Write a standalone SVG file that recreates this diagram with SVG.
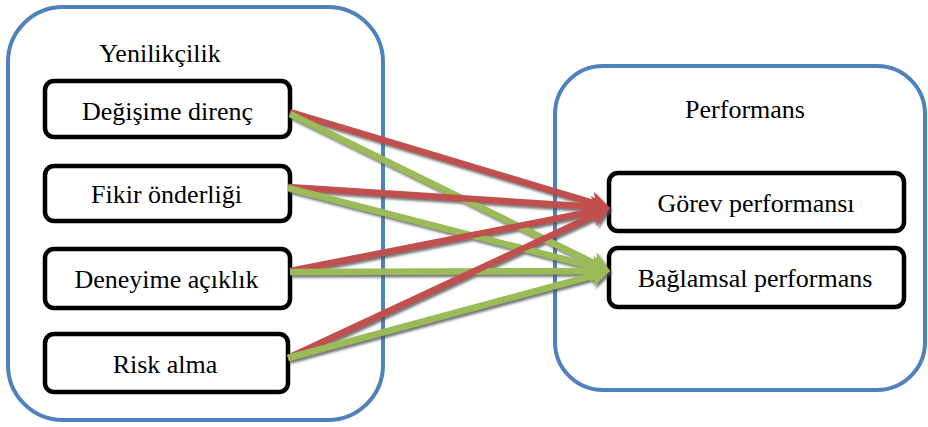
<svg xmlns="http://www.w3.org/2000/svg" width="928" height="427" viewBox="0 0 928 427">
  <style>
    .group { fill: #ffffff; stroke: #4f81bd; stroke-width: 4; }
    .item { fill: #ffffff; stroke: #000000; stroke-width: 4.5; }
    .label { font-family: 'Times New Roman', Tinos, 'Liberation Serif', 'DejaVu Serif', serif; font-size: 26px; fill: #000000; text-anchor: middle; }
    .red { stroke: #c0504d; stroke-width: 6.5; fill: none; marker-end: url(#headRed); }
    .green { stroke: #9bbb59; stroke-width: 6.5; fill: none; marker-end: url(#headGreen); }
  </style>
  <defs>
    <marker id="headRed" markerUnits="userSpaceOnUse" viewBox="-22 -12 24 24" markerWidth="24" markerHeight="24" refX="-10" refY="0" orient="auto" overflow="visible">
      <path d="M0,0 L-20,-11 L-15,0 L-20,11 Z" fill="#c0504d"/>
    </marker>
    <marker id="headGreen" markerUnits="userSpaceOnUse" viewBox="-22 -12 24 24" markerWidth="24" markerHeight="24" refX="-10" refY="0" orient="auto" overflow="visible">
      <path d="M0,0 L-20,-11 L-15,0 L-20,11 Z" fill="#9bbb59"/>
    </marker>
    <filter id="shadow" x="-10%" y="-10%" width="120%" height="120%">
      <feDropShadow dx="2" dy="2.5" stdDeviation="1" flood-color="#555555" flood-opacity="0.8"/>
    </filter>
  </defs>

  <!-- containers -->
  <g id="yenilikcilik">
    <rect class="group" x="8" y="7" width="375" height="413" rx="55" ry="55"/>
    <text class="label" x="160" y="62">Yenilikçilik</text>
  </g>
  <g id="performans">
    <rect class="group" x="555" y="66" width="370" height="324" rx="48" ry="48"/>
    <text class="label" x="745" y="118">Performans</text>
  </g>

  <!-- source nodes -->
  <g id="degisime-direnc">
    <rect class="item" x="45" y="81" width="245" height="56" rx="9" ry="9"/>
    <text class="label" x="167.5" y="120">Değişime direnç</text>
  </g>
  <g id="fikir-onderligi">
    <rect class="item" x="45" y="166" width="245" height="55" rx="9" ry="9"/>
    <text class="label" x="166.5" y="203">Fikir önderliği</text>
  </g>
  <g id="deneyime-aciklik">
    <rect class="item" x="45" y="249" width="245" height="59" rx="9" ry="9"/>
    <text class="label" x="166.5" y="288">Deneyime açıklık</text>
  </g>
  <g id="risk-alma">
    <rect class="item" x="45" y="334" width="243" height="58" rx="9" ry="9"/>
    <text class="label" x="165" y="373">Risk alma</text>
  </g>

  <!-- target nodes -->
  <g id="gorev-performansi">
    <rect class="item" x="609" y="173" width="295" height="58" rx="9" ry="9"/>
    <text class="label" x="756" y="212">Görev performansı</text>
  </g>
  <g id="baglamsal-performans">
    <rect class="item" x="609" y="248" width="295" height="59" rx="9" ry="9"/>
    <text class="label" x="755" y="287">Bağlamsal performans</text>
  </g>

  <!-- connectors -->
  <g id="connectors" filter="url(#shadow)">
    <line class="red" x1="290" y1="112" x2="600.4" y2="205.1"/>
    <line class="green" x1="290" y1="114" x2="601.0" y2="266.6"/>
    <line class="red" x1="288" y1="187" x2="600.0" y2="207.3"/>
    <line class="green" x1="288" y1="188" x2="600.3" y2="268.5"/>
    <line class="red" x1="290" y1="271" x2="600.2" y2="209.9"/>
    <line class="green" x1="290" y1="272" x2="600" y2="271"/>
    <line class="red" x1="288" y1="358" x2="600.9" y2="212.2"/>
    <line class="green" x1="288" y1="358" x2="600.3" y2="273.6"/>
  </g>
</svg>
